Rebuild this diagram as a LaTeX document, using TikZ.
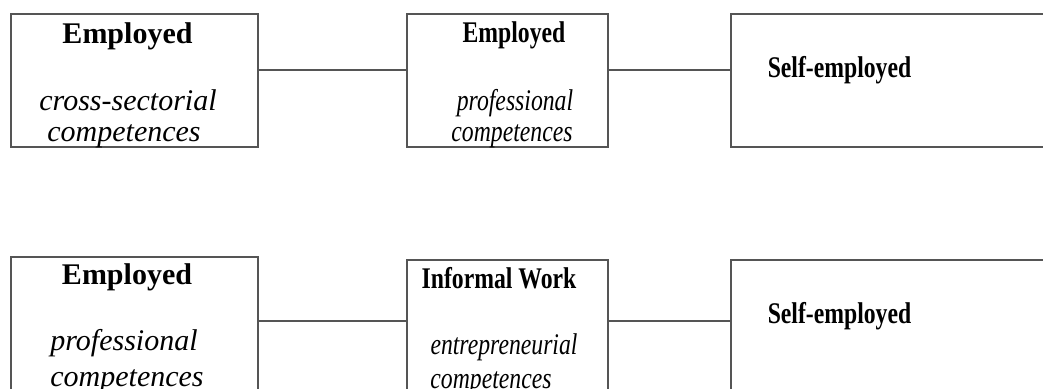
\documentclass[tikz,border=0pt]{standalone}
\usepackage{fontspec}
\setmainfont{Liberation Serif}
\definecolor{linegray}{RGB}{85,85,85}
\newcommand{\narrow}[1]{\scalebox{0.79}[1]{#1}}
\begin{document}
\begin{tikzpicture}[x=1pt,y=-1pt,
  box/.style={draw=linegray,line width=1.5pt,rectangle,inner sep=0pt,outer sep=0pt,anchor=north west},
  conn/.style={draw=linegray,line width=1.5pt},
  title/.style={anchor=base,inner sep=0pt,font=\fontsize{30pt}{36pt}\selectfont\bfseries},
  sub/.style={anchor=base,inner sep=0pt,font=\fontsize{30pt}{36pt}\selectfont\itshape}]
\useasboundingbox (0,0) rectangle (1043,388);
\clip (0,0) rectangle (1043,388);
% top row
\node[box,minimum width=247pt,minimum height=133pt] (a1) at (11,14) {};
\node[box,minimum width=201pt,minimum height=133pt] (a2) at (407,14) {};
\node[box,minimum width=340pt,minimum height=133pt] (a3) at (731,14) {};
\draw[conn] ([yshift=-56pt]a1.north east) -- ([yshift=-56pt]a2.north west);
\draw[conn] ([yshift=-56pt]a2.north east) -- ([yshift=-56pt]a3.north west);
\node[title] (a1t) at (127.5,43) {Employed};
\node[sub] (a1s) at (128,110) {cross-sectorial};
\node[sub] (a1c) at (124,141) {competences};
\node[title] (a2t) at (514,42) {\narrow{Employed}};
\node[sub] (a2s) at (515,110) {\narrow{professional}};
\node[sub] (a2c) at (512,141) {\narrow{competences}};
\node[title] (a3t) at (839.5,77) {\narrow{Self-employed}};
% bottom row
\node[box,minimum width=247pt,minimum height=160pt] (b1) at (11,257) {};
\node[box,minimum width=201pt,minimum height=160pt] (b2) at (407,260) {};
\node[box,minimum width=340pt,minimum height=160pt] (b3) at (731,260) {};
\draw[conn] ([yshift=-64pt]b1.north east) -- ([yshift=-61pt]b2.north west);
\draw[conn] ([yshift=-61pt]b2.north east) -- ([yshift=-61pt]b3.north west);
\node[title] (b1t) at (127,284) {Employed};
\node[sub] (b1s) at (124,350) {professional};
\node[sub] (b1c) at (127,386) {competences};
\node[title] (b2t) at (499,288) {\narrow{Informal Work}};
\node[sub] (b2s) at (504,354) {\narrow{entrepreneurial}};
\node[sub] (b2c) at (491,388) {\narrow{competences}};
\node[title] (b3t) at (839.5,323) {\narrow{Self-employed}};
\end{tikzpicture}
\end{document}
